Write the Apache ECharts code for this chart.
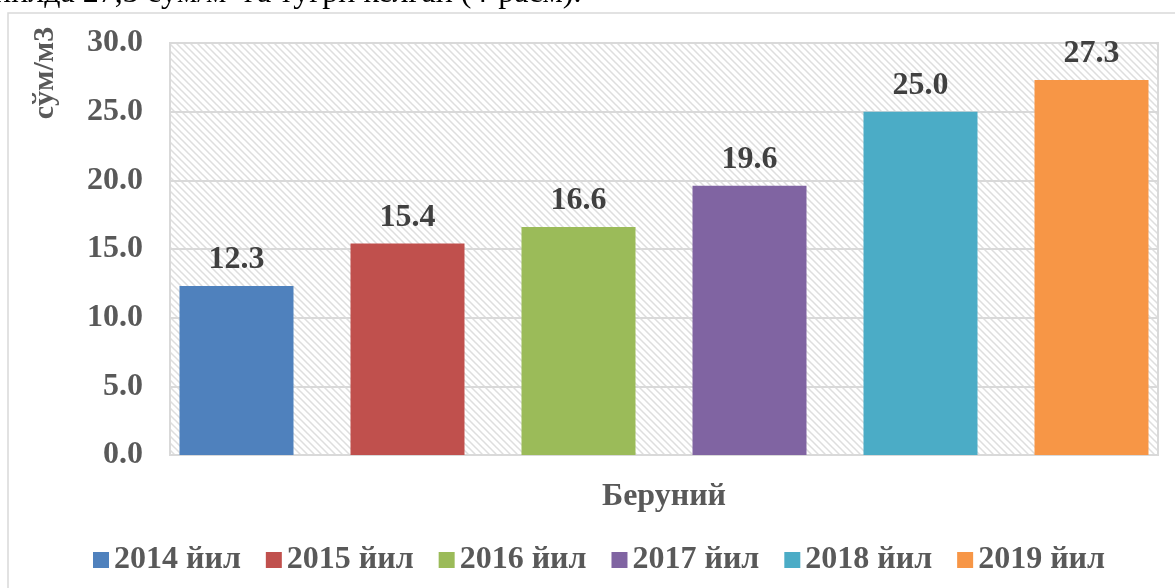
<!DOCTYPE html>
<html>
<head>
<meta charset="utf-8">
<script src="https://cdn.jsdelivr.net/npm/echarts@6/dist/echarts.min.js"></script>
<style>
html,body{margin:0;padding:0;background:#fff;}
#chart{width:1175px;height:588px;}
</style>
</head>
<body>
<div id="chart"></div>
<script>
const categories = ['Беруний'];
const seriesNames = ['2014 йил', '2015 йил', '2016 йил', '2017 йил', '2018 йил', '2019 йил'];
const seriesValues = [12.3, 15.4, 16.6, 19.6, 25.0, 27.3];
const seriesColors = ['#4F81BD', '#C0504D', '#9BBB59', '#8064A2', '#4BACC6', '#F79646'];
const yAxisName = 'сўм/м3';
const topText = 'йилда 27,3 сўм/м³ га тўғри келган (4-расм).';

const FONT = '"Liberation Serif", "Times New Roman", serif';

// hatch pattern
const T = 7;
const pc = document.createElement('canvas');
pc.width = T; pc.height = T;
const pctx = pc.getContext('2d');
pctx.fillStyle = '#ffffff';
pctx.fillRect(0, 0, T, T);
pctx.strokeStyle = '#dedede';
pctx.lineWidth = 1.5;
pctx.beginPath();
for (const off of [-T, 0, T]) {
  pctx.moveTo(off - 2, -2); pctx.lineTo(off + T + 2, T + 2);
}
pctx.stroke();

const chart = echarts.init(document.getElementById('chart'), null, {renderer: 'canvas'});

const series = seriesNames.map((n, i) => ({
  name: n,
  type: 'bar',
  data: [seriesValues[i]],
  barWidth: 114,
  barGap: '50%',
  itemStyle: {color: seriesColors[i]},
  label: {
    show: true,
    position: 'top',
    distance: 10,
    formatter: p => p.value.toFixed(1),
    color: '#404040',
    fontFamily: FONT,
    fontWeight: 'bold',
    fontSize: 32
  }
}));

chart.setOption({
  animation: false,
  backgroundColor: '#ffffff',
  graphic: [
    {type: 'rect', shape: {x: 8, y: 13, width: 1300, height: 700},
     style: {fill: 'none', stroke: '#d9d9d9', lineWidth: 1.5}, silent: true, z: -10},
    {type: 'text', x: -6, y: 10,
     style: {text: topText, font: '32px ' + FONT, fill: '#000000', textVerticalAlign: 'bottom'}},
    {type: 'text', x: 45, y: 73, rotation: Math.PI / 2,
     style: {text: yAxisName, font: 'bold 30px ' + FONT, fill: '#595959', textAlign: 'center', textVerticalAlign: 'middle'}}
  ],
  grid: {
    left: 170, right: 17, top: 43, bottom: 133,
    show: true,
    backgroundColor: {image: pc, repeat: 'repeat'},
    borderColor: '#d9d9d9',
    borderWidth: 2
  },
  legend: {
    data: seriesNames,
    left: 88,
    top: 539,
    icon: 'rect',
    itemWidth: 16,
    itemHeight: 16,
    itemGap: 25,
    textStyle: {color: '#595959', fontFamily: FONT, fontWeight: 'bold', fontSize: 32}
  },
  xAxis: {
    type: 'category',
    data: categories,
    axisLine: {show: true, lineStyle: {color: '#d9d9d9', width: 2}},
    axisTick: {show: false},
    axisLabel: {margin: 26, color: '#595959', fontFamily: FONT, fontWeight: 'bold', fontSize: 32}
  },
  yAxis: {
    type: 'value',
    min: 0, max: 30, interval: 5,
    axisLine: {show: false},
    axisTick: {show: false},
    splitLine: {lineStyle: {color: '#d9d9d9', width: 2}},
    axisLabel: {margin: 27, formatter: v => v.toFixed(1), color: '#595959', fontFamily: FONT, fontWeight: 'bold', fontSize: 32}
  },
  series: series
});
</script>
</body>
</html>
